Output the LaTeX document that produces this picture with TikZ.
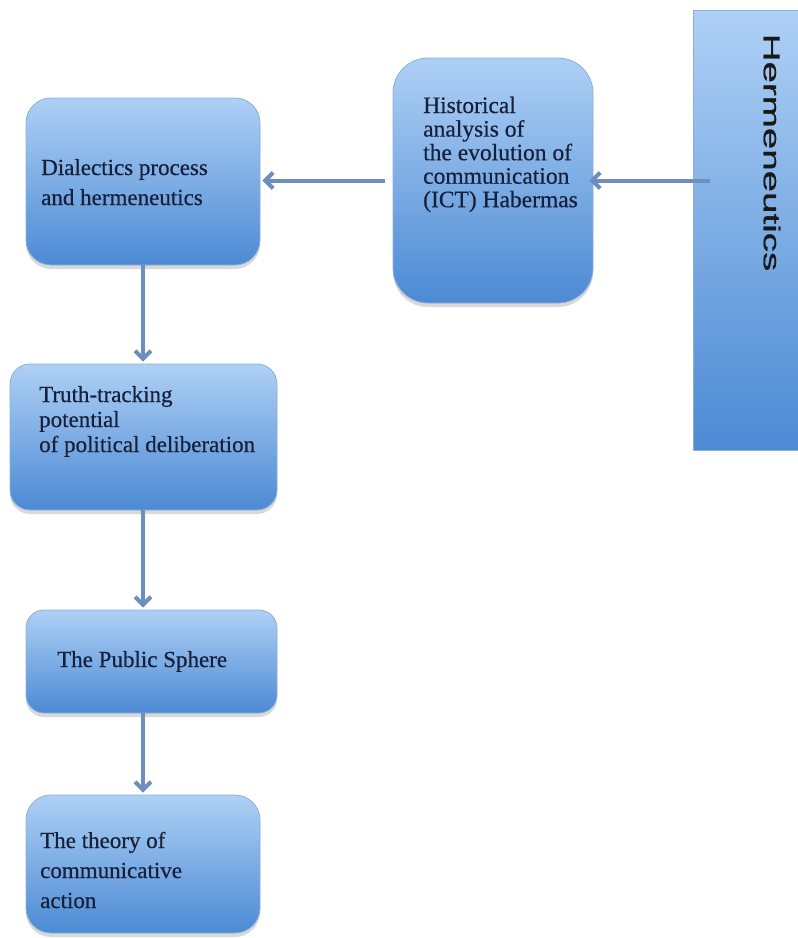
\documentclass[tikz,border=0pt]{standalone}
\usepackage{fontspec}
\setmainfont{Liberation Serif}[FakeBold=0.5]
\newfontfamily\hsans{Liberation Sans}[FakeBold=0.8]
\usetikzlibrary{arrows.meta,shadows,calc}
\definecolor{boxtop}{RGB}{174,208,245}
\definecolor{boxbot}{RGB}{76,138,212}
\definecolor{boxedge}{RGB}{140,175,215}
\definecolor{arrowc}{RGB}{108,143,190}
\definecolor{txt}{RGB}{22,32,58}
\newcommand{\txtlines}[1]{\begin{tabular}[t]{@{}l@{}}#1\end{tabular}}
\begin{document}
\begin{tikzpicture}[x=1pt,y=-1pt,
  box/.style={draw=boxedge, line width=0.8pt, top color=boxtop, bottom color=boxbot,
    inner sep=0pt, drop shadow={shadow xshift=0pt, shadow yshift=-4pt, opacity=0.3}},
  lbl/.style={anchor=base west, inner sep=0pt, text=txt},
  conn/.style={draw=arrowc, line width=4pt, -{Straight Barb[length=8pt,width=16pt]}}]
\useasboundingbox (0,0) rectangle (798,938);
% boxes
\node[box, rounded corners=25pt, minimum width=234pt, minimum height=167pt] (b1) at (143,181.5) {};
\node[box, rounded corners=35pt, minimum width=200pt, minimum height=245pt] (b2) at (493,180.5) {};
\node[draw=boxedge, line width=0.8pt, top color=boxtop, bottom color=boxbot, inner sep=0pt,
      minimum width=117pt, minimum height=440pt] (bar) at (751.5,230) {};
\node[box, rounded corners=20pt, minimum width=267pt, minimum height=146pt] (b3) at (143.5,437) {};
\node[box, rounded corners=18pt, minimum width=251pt, minimum height=103pt] (b4) at (151.5,661.5) {};
\node[box, rounded corners=25pt, minimum width=234pt, minimum height=138pt] (b5) at (143,864) {};
% texts
\node[lbl, font=\fontsize{23}{30}\selectfont] (t1) at (41,175) {\txtlines{Dialectics process\\and hermeneutics}};
\node[lbl, font=\fontsize{23.5}{23.5}\selectfont] (t2) at (423,113) {\txtlines{Historical\\analysis of\\the evolution of\\communication\\(ICT) Habermas}};
\node[lbl, font=\fontsize{23}{25}\selectfont] (t3) at (39,402) {\txtlines{Truth-tracking\\potential\\of political deliberation}};
\node[lbl, font=\fontsize{23}{30}\selectfont] (t4) at (57,667) {The Public Sphere};
\node[lbl, font=\fontsize{23}{30}\selectfont] (t5) at (40,848) {\txtlines{The theory of\\communicative\\action}};
\node[rotate=-90, inner sep=0pt, text=black!90, font=\hsans\fontsize{38.5}{40}\selectfont] (herm) at (772,152.5) {\scalebox{1}[0.6]{Hermeneutics}};
% connectors
\draw[conn, shorten >=-4pt] ([xshift=17pt]bar.west |- b2.east) -- (b2.east);
\draw[conn, shorten <=8pt, shorten >=2pt] (b2.west) -- (b2.west -| b1.east);
\draw[conn, shorten >=2pt] (b1.south) -- (b1.south |- b3.north);
\draw[conn, shorten >=2pt] (b1.south |- b3.south) -- (b1.south |- b4.north);
\draw[conn, shorten >=2pt] (b1.south |- b4.south) -- (b1.south |- b5.north);
\end{tikzpicture}
\end{document}
